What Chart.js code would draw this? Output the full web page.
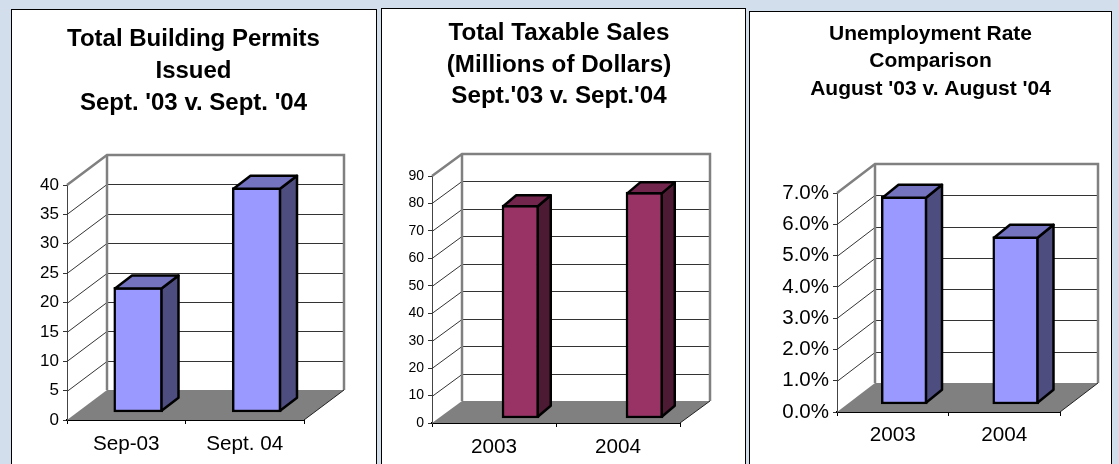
<!DOCTYPE html>
<html><head><meta charset="utf-8">
<script src="https://cdn.jsdelivr.net/npm/chart.js@4"></script>
<style>
html,body{margin:0;padding:0;width:1119px;height:464px;overflow:hidden;background:#D3DEEC;}
.box{position:absolute;background:#fff;border:1.5px solid #000;box-sizing:border-box;height:520px;}
canvas{position:absolute;}
</style></head><body>
<div class="box" style="left:11px;top:9px;width:366px"></div>
<div class="box" style="left:381px;top:8px;width:365px"></div>
<div class="box" style="left:749px;top:11px;width:363px"></div>
<canvas id="c1" style="left:11px;top:0;width:365px;height:464px"></canvas>
<canvas id="c2" style="left:377px;top:0;width:364px;height:464px"></canvas>
<canvas id="c3" style="left:749px;top:0;width:363px;height:464px"></canvas>
<script>
const permitCategories = ['Sep-03', 'Sept. 04'];
const permitValues = [21.3, 38.3];
const permitTitle = ['Total Building Permits', 'Issued', "Sept. '03 v. Sept. '04"];
const salesCategories = ['2003', '2004'];
const salesValues = [77.8, 82.5];
const salesTitle = ['Total Taxable Sales', '(Millions of Dollars)', "Sept.'03 v. Sept.'04"];
const rateCategories = ['2003', '2004'];
const rateValues = [6.65, 5.37];
const rateTitle = ['Unemployment Rate', 'Comparison', "August '03 v. August '04"];

const BLUE = {front:'#9999FF', top:'#7373BF', side:'#4D4D80'};
const WINE = {front:'#993366', top:'#73264D', side:'#4D1A33'};

function make3d(g){
  return {
    id:'fake3d',
    beforeDatasetsDraw(chart){
      const c=chart.ctx, xs=chart.scales.x, ys=chart.scales.y;
      const L=xs.left, R=xs.right, B=ys.bottom, T=ys.top, dx=g.dx, dy=g.dy;
      c.save();
      c.fillStyle='#808080';
      c.beginPath();c.moveTo(L,B);c.lineTo(R,B);c.lineTo(R+dx,B+dy);c.lineTo(L+dx,B+dy);c.closePath();c.fill();
      c.strokeStyle='#333';c.lineWidth=1;
      ys.ticks.forEach(t=>{
        if(t.value===ys.min||t.value===ys.max)return;
        const y=Math.round(ys.getPixelForValue(t.value))+0.5;
        c.beginPath();c.moveTo(L,y);c.lineTo(L+dx,y+dy);c.lineTo(R+dx,y+dy);c.stroke();
      });
      c.strokeStyle='#808080';c.lineWidth=2.5;
      c.beginPath();c.moveTo(L,T);c.lineTo(L+dx,T+dy);c.lineTo(R+dx,T+dy);c.lineTo(R+dx,B+dy);c.stroke();
      c.beginPath();c.moveTo(L+dx,T+dy);c.lineTo(L+dx,B+dy);c.stroke();
      c.strokeStyle='#222';c.lineWidth=1;
      c.beginPath();c.moveTo(R,B);c.lineTo(R+dx,B+dy);c.stroke();
      c.restore();
    },
    beforeDatasetDraw(chart){
      chart.ctx.save();
      chart.ctx.translate(g.ox,g.oy);
    },
    afterDatasetDraw(chart,args){
      const c=chart.ctx;
      args.meta.data.forEach(b=>{
        const l=b.x-b.width/2, r=b.x+b.width/2, t=b.y, bot=b.base;
        c.lineWidth=2.5;c.strokeStyle='#000';c.lineJoin='round';
        const hw=1.25;
        c.fillStyle=g.colors.side;
        c.beginPath();c.moveTo(r-hw,t+hw);c.lineTo(r-hw+g.bx,t+hw+g.by);c.lineTo(r-hw+g.bx,bot-hw+g.by);c.lineTo(r-hw,bot-hw);c.closePath();c.fill();c.stroke();
        c.fillStyle=g.colors.top;
        c.beginPath();c.moveTo(l+hw,t+hw);c.lineTo(l+hw+g.bx,t+hw+g.by);c.lineTo(r-hw+g.bx,t+hw+g.by);c.lineTo(r-hw,t+hw);c.closePath();c.fill();c.stroke();
      });
      c.restore();
    }
  };
}

function build(id,cats,vals,title,max,step,fmt,g){
  const font='"Liberation Sans",Arial,sans-serif';
  new Chart(document.getElementById(id),{
    type:'bar',
    data:{labels:cats,datasets:[{data:vals,backgroundColor:g.colors.front,borderColor:'#000',borderWidth:2.5,borderSkipped:false,barThickness:g.barW,clip:false}]},
    plugins:[make3d(g)],
    options:{
      responsive:false,animation:false,devicePixelRatio:1,
      layout:{padding:0},
      plugins:{
        legend:{display:false},tooltip:{enabled:false},
        title:{display:true,text:title,color:'#000',align:'center',
          font:{family:font,weight:'bold',size:g.titleSize,lineHeight:g.titleLH},
          padding:{top:g.titleTop,bottom:g.titleBottom}}
      },
      scales:{
        x:{grid:{display:true,drawOnChartArea:false,color:'#000',tickLength:4,offset:true},
           border:{color:'#000',width:2},
           ticks:{color:'#000',font:{family:font,size:g.xSize},padding:g.xPad,maxRotation:0},
           afterFit(s){s.height=g.xH;}},
        y:{min:0,max:max,grid:{display:true,drawOnChartArea:false,color:'#333',tickLength:4},
           border:{color:'#444',width:1},
           ticks:{stepSize:step,color:'#000',font:{family:font,size:g.ySize},padding:4,callback:fmt},
           afterFit(s){s.width=g.yW;}},
        spacer:{axis:'y',position:'right',display:true,min:0,max:1,
           grid:{display:false},border:{display:false},ticks:{display:false},
           afterFit(s){s.width=g.padR;}}
      }
    }
  });
}
function size(id){const e=document.getElementById(id);e.width=parseInt(e.style.width);e.height=464;}
['c1','c2','c3'].forEach(size);

build('c1',permitCategories,permitValues,permitTitle,40,5,v=>v,
 {colors:BLUE,dx:40,dy:-30,ox:12,oy:-7.5,bx:17,by:-13,barW:49,yW:56,xH:44,padR:72,
  titleSize:24,titleLH:32/24,titleTop:23,titleBottom:66,xSize:20.7,ySize:17,xPad:8});
build('c2',salesCategories,salesValues,salesTitle,90,10,v=>v,
 {colors:WINE,dx:30,dy:-22,ox:26.5,oy:-4.5,bx:13,by:-11,barW:37,yW:55,xH:41,padR:61,
  titleSize:24.2,titleLH:31.5/24.2,titleTop:18,titleBottom:63.5,xSize:20.7,ySize:14,xPad:8});
build('c3',rateCategories,rateValues,rateTitle,7,1,v=>Number(v).toFixed(1)+'%',
 {colors:BLUE,dx:38,dy:-29,ox:11.5,oy:-7.5,bx:16,by:-13,barW:46,yW:88,xH:52,padR:52,
  titleSize:21,titleLH:27.5/21,titleTop:20,titleBottom:90.5,xSize:20.7,ySize:20.5,xPad:7});
</script>
</body></html>
